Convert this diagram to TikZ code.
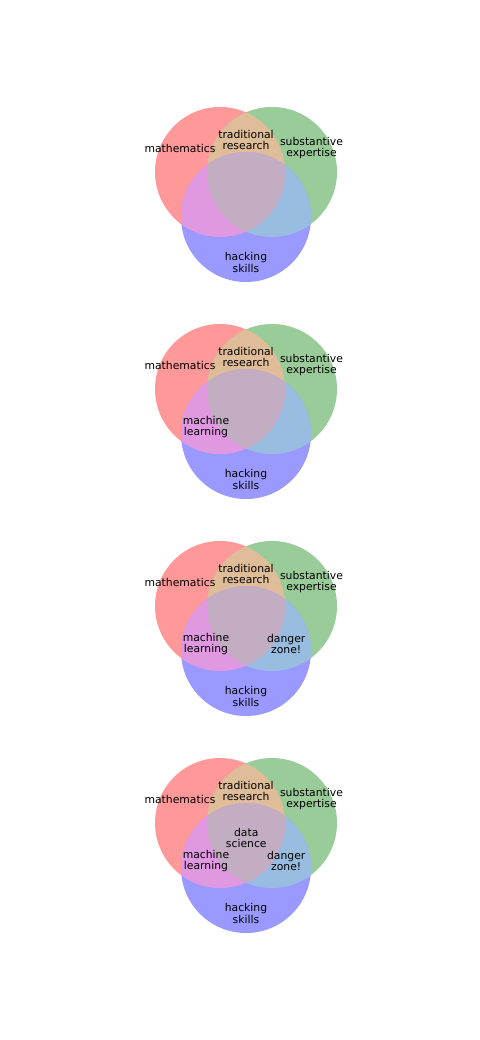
\documentclass[tikz,border=0pt]{standalone}
\usepackage{fontspec}
\setmainfont{DejaVu Sans}
\definecolor{cR}{RGB}{255,153,153}
\definecolor{cG}{RGB}{153,204,153}
\definecolor{cB}{RGB}{153,153,255}
\definecolor{cRG}{RGB}{224,189,153}
\definecolor{cRB}{RGB}{224,153,224}
\definecolor{cGB}{RGB}{153,189,224}
\definecolor{cRGB}{RGB}{194,173,194}
\begin{document}
\begin{tikzpicture}[x=1bp,y=-1bp,
  lbl/.style={font=\fontsize{10.8bp}{11.2bp}\selectfont, align=center, inner sep=0pt, text=black},
  setcircle/.style={radius=65bp}]
\useasboundingbox (0,0) rectangle (480,1040);
\fill[white] (0,0) rectangle (480,1040);
\foreach \i/\dy in {1/0,2/217,3/434,4/651}{
  \begin{scope}[shift={(0,\dy)}]
    \coordinate (r\i) at (220,172);
    \coordinate (g\i) at (272,172);
    \coordinate (b\i) at (246,217);
    \fill[cR] (r\i) circle[setcircle];
    \fill[cG] (g\i) circle[setcircle];
    \fill[cB] (b\i) circle[setcircle];
    \begin{scope}
      \clip (g\i) circle[setcircle];
      \fill[cGB] (b\i) circle[setcircle];
    \end{scope}
    \begin{scope}
      \clip (r\i) circle[setcircle];
      \fill[cRG] (g\i) circle[setcircle];
      \fill[cRB] (b\i) circle[setcircle];
      \clip (g\i) circle[setcircle];
      \fill[cRGB] (b\i) circle[setcircle];
    \end{scope}
    \node[lbl] (math\i) at (180,148.3) {mathematics};
    \node[lbl] (trad\i) at (246,140) {traditional\\research};
    \node[lbl] (subs\i) at (311.5,148.3) {substantive\\expertise};
    \node[lbl] (hack\i) at (246,262.5) {hacking\\skills};
    \ifnum\i>1
      \node[lbl] (mach\i) at (206,209.8) {machine\\learning};
    \fi
    \ifnum\i>2
      \node[lbl] (dang\i) at (286.2,209.8) {danger\\zone!};
    \fi
    \ifnum\i>3
      \node[lbl] (data\i) at (246.3,187) {data\\science};
    \fi
  \end{scope}
}
\end{tikzpicture}
\end{document}
